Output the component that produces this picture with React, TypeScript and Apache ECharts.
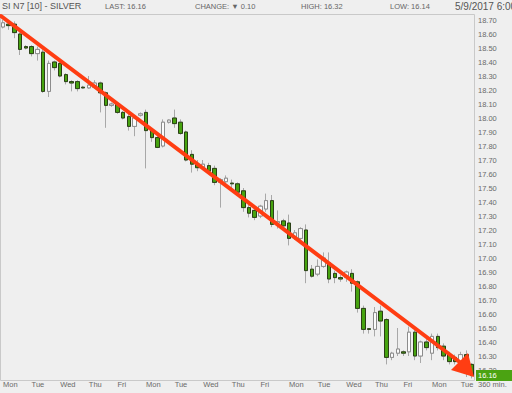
import React, { useEffect, useRef } from "react";
import * as echarts from "echarts";

const days = ["Mon", "Tue", "Wed", "Thu", "Fri", "Mon", "Tue", "Wed", "Thu", "Fri", "Mon", "Tue", "Wed", "Thu", "Fri", "Mon", "Tue"];
const barsPerDay = 5;

const opens = [18.65, 18.67, 18.67, 18.60, 18.51, 18.51, 18.46, 18.47, 18.19, 18.40,
  18.39, 18.31, 18.26, 18.26, 18.22, 18.215, 18.22, 18.25, 18.18, 18.09,
  18.10, 18.04, 18.01, 17.94, 18.02, 18.04, 17.91, 17.86, 17.80, 17.97,
  18.00, 17.97, 17.90, 17.74, 17.665, 17.65, 17.66, 17.64, 17.54, 17.545,
  17.535, 17.53, 17.48, 17.36, 17.34, 17.30, 17.35, 17.41, 17.25, 17.265,
  17.25, 17.15, 17.14, 17.20, 16.92, 16.885, 16.94, 16.965, 16.89, 16.86,
  16.86, 16.89, 16.83, 16.64, 16.495, 16.49, 16.62, 16.56, 16.29, 16.32,
  16.33, 16.33, 16.47, 16.30, 16.40, 16.32, 16.44, 16.37, 16.31, 16.29,
  16.26, 16.31, 16.24];

const closes = [18.68, 18.66, 18.61, 18.49, 18.50, 18.46, 18.49, 18.19, 18.39, 18.36,
  18.30, 18.26, 18.25, 18.21, 18.215, 18.235, 18.25, 18.18, 18.09, 18.10,
  18.04, 18.00, 17.94, 18.00, 18.03, 17.91, 17.86, 17.79, 17.97, 17.985,
  17.96, 17.89, 17.70, 17.67, 17.645, 17.67, 17.62, 17.54, 17.56, 17.57,
  17.53, 17.47, 17.36, 17.32, 17.29, 17.37, 17.41, 17.24, 17.26, 17.23,
  17.14, 17.18, 17.21, 16.91, 16.87, 16.94, 17.00, 16.85, 16.86, 16.85,
  16.90, 16.82, 16.64, 16.49, 16.49, 16.61, 16.55, 16.29, 16.32, 16.35,
  16.32, 16.47, 16.30, 16.40, 16.36, 16.44, 16.36, 16.30, 16.26, 16.26,
  16.31, 16.26, 16.16];

const lows = [18.64, 18.63, 18.57, 18.45, 18.49, 18.44, 18.41, 18.18, 18.15, 18.34,
  18.29, 18.24, 18.19, 18.19, 18.21, 18.21, 18.21, 18.04, 17.93, 18.08,
  18.03, 17.99, 17.91, 17.87, 18.01, 17.64, 17.83, 17.785, 17.79, 17.96,
  17.93, 17.88, 17.69, 17.61, 17.62, 17.63, 17.60, 17.52, 17.36, 17.52,
  17.49, 17.45, 17.33, 17.29, 17.27, 17.285, 17.33, 17.22, 17.21, 17.21,
  17.09, 17.13, 17.13, 16.82, 16.86, 16.87, 16.93, 16.82, 16.82, 16.83,
  16.83, 16.76, 16.61, 16.46, 16.46, 16.44, 16.44, 16.24, 16.27, 16.30,
  16.30, 16.30, 16.27, 16.25, 16.34, 16.27, 16.34, 16.27, 16.24, 16.24,
  16.24, 16.15, 16.14];

const highs = [18.70, 18.69, 18.69, 18.61, 18.52, 18.52, 18.51, 18.49, 18.41, 18.41,
  18.40, 18.32, 18.27, 18.27, 18.23, 18.30, 18.27, 18.26, 18.19, 18.11,
  18.11, 18.05, 18.03, 18.01, 18.04, 18.06, 17.92, 17.88, 17.99, 17.99,
  18.06, 17.99, 17.91, 17.77, 17.70, 17.70, 17.68, 17.66, 17.57, 17.59,
  17.56, 17.54, 17.50, 17.38, 17.36, 17.38, 17.46, 17.45, 17.34, 17.28,
  17.31, 17.20, 17.22, 17.24, 16.95, 16.99, 17.04, 17.04, 16.91, 16.88,
  16.91, 16.92, 16.84, 16.66, 16.50, 16.65, 16.66, 16.57, 16.33, 16.50,
  16.34, 16.51, 16.49, 16.41, 16.43, 16.46, 16.46, 16.39, 16.33, 16.31,
  16.33, 16.34, 16.25];

const headerTitle = "SI N7 [10] - SILVER";
const headerLast = "LAST: 16.16";
const headerChange = "CHANGE: \u25BC 0.10";
const headerHigh = "HIGH: 16.32";
const headerLow = "LOW: 16.14";
const headerDate = "5/9/2017 6:00 AM";
const periodLabel = "360 min.";

const BG = "#efefef";
const TXT = "#6a6a6a";
const FONT = "'Liberation Sans', Arial, sans-serif";

export default function App() {
  const ref = useRef<HTMLDivElement>(null);
  useEffect(() => {
    document.body.style.margin = "0";
    document.body.style.background = BG;
    const chart = echarts.init(ref.current!, undefined, { renderer: "svg" });
    const categories = opens.map((_, i) => `${days[Math.floor(i / barsPerDay)]}|${i}`);
    const full = opens.map((o, i) => [o, closes[i], lows[i], highs[i]]);
    const bodies = opens.map((o, i) => [o, closes[i], Math.min(o, closes[i]), Math.max(o, closes[i])]);

    chart.setOption({
      animation: false,
      backgroundColor: BG,
      grid: { left: 0, width: 475, top: 6, height: 378, containLabel: false },
      xAxis: {
        type: "category",
        data: categories,
        boundaryGap: true,
        axisLine: { show: false },
        axisTick: { show: false },
        splitLine: { show: false },
        axisLabel: {
          interval: (i: number) => i % barsPerDay === 0,
          formatter: (v: string) => v.split("|")[0],
          align: "left",
          margin: -4,
          color: TXT,
          fontSize: 7.5,
          fontFamily: FONT,
        },
      },
      yAxis: {
        type: "value",
        position: "right",
        min: 16.1,
        max: 18.8,
        interval: 0.1,
        axisLine: { show: false },
        axisTick: { show: false },
        splitLine: { show: false },
        axisLabel: {
          margin: 3,
          color: TXT,
          fontSize: 7.5,
          fontFamily: FONT,
          formatter: (v: number) => (v < 16.15 || v > 18.75 ? "" : v.toFixed(2)),
        },
      },
      series: [
        {
          type: "candlestick",
          name: "wick",
          data: full,
          barWidth: 4,
          itemStyle: {
            color: "rgba(0,0,0,0)",
            color0: "rgba(0,0,0,0)",
            borderColor: "#a8a8a8",
            borderColor0: "#a8a8a8",
            borderWidth: 1,
          },
          z: 2,
        },
        {
          type: "candlestick",
          name: "body",
          data: bodies,
          barWidth: 4,
          itemStyle: {
            color: "#fbfbfb",
            color0: "#46a30f",
            borderColor: "#8c8c8c",
            borderColor0: "#2a3f16",
            borderWidth: 1,
          },
          z: 3,
        },
      ],
    });

    const lastY = chart.convertToPixel({ yAxisIndex: 0 }, closes[closes.length - 1]) as number;

    chart.setOption({
      graphic: {
        elements: [
          { type: "rect", z: 0, shape: { x: 0.5, y: 14.5, width: 474, height: 366 }, style: { fill: "none", stroke: "#c9c9c9", lineWidth: 1 } },
          { type: "text", x: 2, y: 6, z: 10, style: { text: headerTitle, fill: "#555", font: `9px ${FONT}`, verticalAlign: "middle" } },
          { type: "text", x: 105, y: 6, z: 10, style: { text: headerLast, fill: "#666", font: `7.5px ${FONT}`, verticalAlign: "middle" } },
          { type: "text", x: 195, y: 6, z: 10, style: { text: headerChange, fill: "#666", font: `7.5px ${FONT}`, verticalAlign: "middle" } },
          { type: "text", x: 301, y: 6, z: 10, style: { text: headerHigh, fill: "#666", font: `7.5px ${FONT}`, verticalAlign: "middle" } },
          { type: "text", x: 390, y: 6, z: 10, style: { text: headerLow, fill: "#666", font: `7.5px ${FONT}`, verticalAlign: "middle" } },
          { type: "text", x: 455, y: 6, z: 10, style: { text: headerDate, fill: "#555", font: `10px ${FONT}`, verticalAlign: "middle" } },
          { type: "text", x: 478, y: 384, z: 10, style: { text: periodLabel, fill: TXT, font: `7.5px ${FONT}`, verticalAlign: "middle" } },
          { type: "rect", z: 20, shape: { x: 476, y: lastY - 5.5, width: 36, height: 11 }, style: { fill: "#4ba312" } },
          { type: "text", x: 478, y: lastY, z: 21, style: { text: closes[closes.length - 1].toFixed(2), fill: "#fff", font: `7.5px ${FONT}`, verticalAlign: "middle" } },
          { type: "line", z: 30, shape: { x1: 1, y1: 16, x2: 461, y2: 363 }, style: { stroke: "#ff3d12", lineWidth: 4, lineCap: "round" } },
          { type: "polygon", z: 30, shape: { points: [[451, 370], [468, 353], [474, 377]] }, style: { fill: "#ff3d12" } },
        ],
      },
    });

    return () => chart.dispose();
  }, []);
  return <div ref={ref} style={{ position: "absolute", left: 0, top: 0, width: 512, height: 393 }} />;
}
